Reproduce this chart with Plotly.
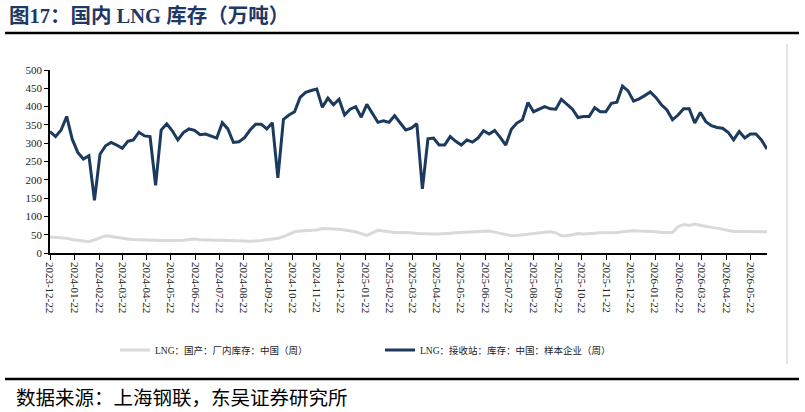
import pandas as pd
import plotly.graph_objects as go

# weekly dates
dates = pd.date_range("2023-12-22", periods=130, freq="7D")

# LNG: 接收站: 库存: 中国: 样本企业（周）
terminal_stock = [
    332, 318, 336, 373, 311, 275, 257, 266, 144, 270,
    293, 302, 295, 286, 305, 309, 330, 320, 318, 185,
    336, 353, 334, 309, 329, 339, 335, 323, 325, 320,
    314, 356, 339, 302, 304, 315, 336, 352, 352, 339,
    356, 205, 365, 377, 386, 425, 439, 444, 448, 398,
    423, 405, 420, 377, 393, 400, 371, 406, 382, 357,
    361, 357, 375, 355, 336, 341, 353, 175, 312, 314,
    295, 295, 318, 305, 295, 309, 303, 314, 334, 325,
    335, 316, 295, 338, 355, 364, 411, 386, 394, 400,
    394, 393, 420, 406, 393, 370, 373, 373, 397, 386,
    386, 409, 412, 456, 443, 415, 421, 430, 440, 425,
    405, 391, 364, 377, 394, 394, 355, 384, 359, 348,
    343, 341, 330, 309, 332, 314, 325, 325, 309, 284,
]

# LNG: 国产: 厂内库存: 中国（周）
domestic_stock = [
    44, 43, 41, 40, 37, 35, 33, 31, 36, 42,
    47, 45, 42, 40, 38, 37, 36, 35, 34, 34,
    34, 34, 34, 34, 35, 37, 38, 36, 35, 35,
    35, 35, 35, 35, 34, 33, 32, 32, 34, 36,
    37, 40, 45, 51, 58, 60, 61, 62, 63, 67,
    67, 66, 65, 63, 61, 58, 53, 48, 55, 62,
    60, 57, 56, 56, 56, 55, 53, 52, 52, 52,
    52, 52, 54, 55, 56, 58, 58, 59, 61, 60,
    57, 54, 50, 47, 48, 50, 53, 53, 55, 57,
    58, 55, 47, 47, 50, 53, 52, 52, 54, 55,
    55, 56, 56, 58, 60, 61, 60, 60, 59, 58,
    56, 55, 56, 72, 78, 75, 79, 76, 72, 70,
    68, 65, 61, 59, 59, 59, 59, 60, 59, 58,
]

name_domestic = "LNG：国产：厂内库存：中国（周）"
name_terminal = "LNG：接收站：库存：中国：样本企业（周）"
title_text = "图17：国内 LNG 库存（万吨）"
source_text = "数据来源：上海钢联，东吴证券研究所"

W, H = 805, 412
L, R, T, B = 50, 38, 70, 159
PW, PH = W - L - R, H - T - B


def px(x):
    return (x - L) / PW


def py(y):
    return (H - B - y) / PH


fig = go.Figure()
fig.add_trace(go.Scatter(
    x=dates, y=domestic_stock, mode="lines", name=name_domestic,
    line=dict(color="#D9D9D9", width=3),
))
fig.add_trace(go.Scatter(
    x=dates, y=terminal_stock, mode="lines", name=name_terminal,
    line=dict(color="#1C3A5E", width=3),
))

serif = "Liberation Serif, Noto Sans CJK SC"

fig.update_layout(
    width=W, height=H,
    margin=dict(l=L, r=R, t=T, b=B, pad=0),
    paper_bgcolor="white", plot_bgcolor="white",
    showlegend=True,
    legend=dict(
        orientation="h", x=px(115), y=py(350), xanchor="left", yanchor="middle",
        font=dict(family=serif, size=9.5, color="#222222"),
        entrywidth=220, entrywidthmode="pixels",
        bgcolor="rgba(0,0,0,0)", itemwidth=30,
    ),
    xaxis=dict(
        type="date",
        range=[dates[0], dates[-1]],
        tick0="2023-12-22", dtick="M1", tickformat="%Y-%m-%d",
        tickangle=90,
        tickfont=dict(family="Liberation Serif", size=11, color="#222222"),
        showline=True, linecolor="black", linewidth=1.5,
        ticks="outside", ticklen=5, tickcolor="black", tickwidth=1,
        showgrid=False, zeroline=False,
    ),
    yaxis=dict(
        range=[0, 500], tick0=0, dtick=50,
        tickfont=dict(family="Liberation Serif", size=11, color="#222222"),
        showline=True, linecolor="black", linewidth=1.5,
        ticks="outside", ticklen=4, tickcolor="black", tickwidth=1,
        showgrid=False, zeroline=False,
    ),
    shapes=[
        dict(type="line", xref="paper", yref="paper",
             x0=px(5), x1=px(799), y0=py(33), y1=py(33),
             line=dict(color="black", width=2.5)),
        dict(type="line", xref="paper", yref="paper",
             x0=px(5), x1=px(799), y0=py(379), y1=py(379),
             line=dict(color="black", width=2.5)),
        dict(type="line", xref="paper", yref="paper",
             x0=px(787), x1=px(787), y0=py(44), y1=py(364),
             line=dict(color="#C8C8C8", width=1)),
    ],
    annotations=[
        dict(text="<b>" + title_text + "</b>", xref="paper", yref="paper",
             x=px(7), y=py(16), xanchor="left", yanchor="middle", showarrow=False,
             font=dict(family="Liberation Serif, Noto Sans CJK SC", size=20.5, color="#1F3864")),
        dict(text=source_text, xref="paper", yref="paper",
             x=px(14), y=py(396), xanchor="left", yanchor="middle", showarrow=False,
             font=dict(family="Noto Sans CJK SC", size=19.5, color="black")),
    ],
)

fig.write_html("out.html")
